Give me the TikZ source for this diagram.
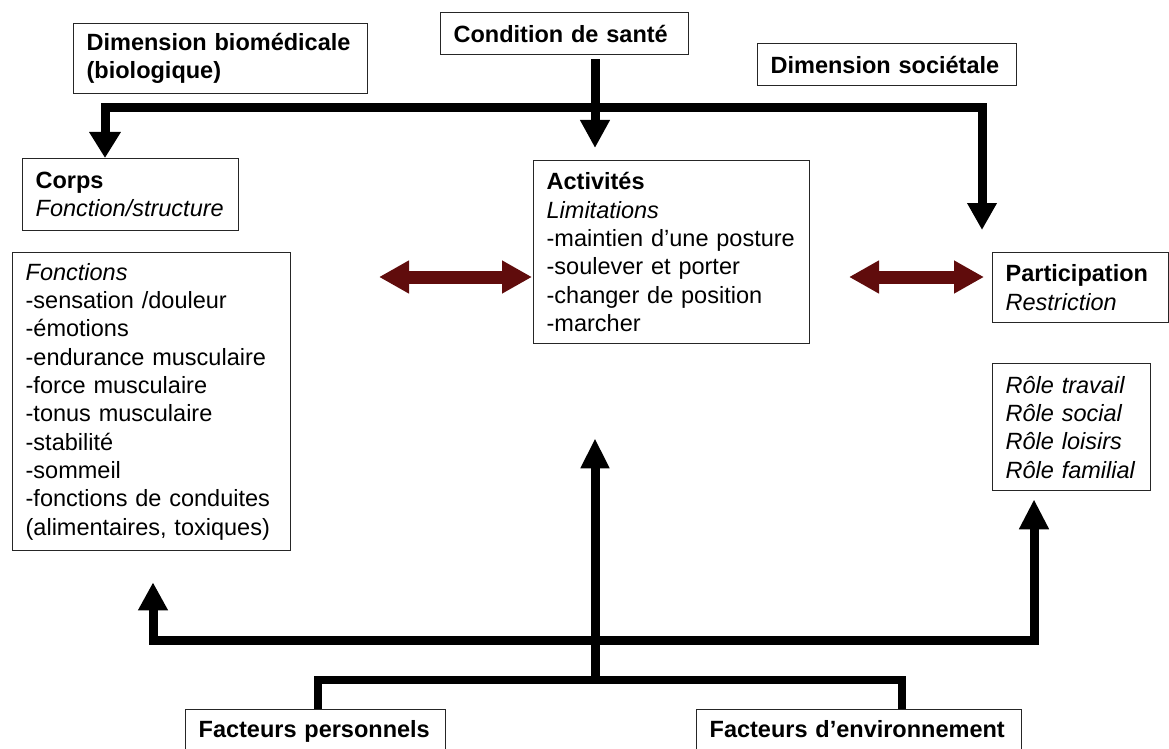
\documentclass[tikz,border=0pt]{standalone}
\usepackage{fontspec}
\setmainfont{Liberation Sans}
\usetikzlibrary{arrows.meta}
\definecolor{darkred}{RGB}{96,12,12}
\newcommand\diagfont{\fontsize{23.5}{28.3}\selectfont}
\begin{document}
\begin{tikzpicture}[x=1pt,y=-1pt,
  box/.style={draw=black!85, line width=1.3pt, anchor=north west, align=left,
              inner xsep=13pt, inner ysep=0pt, font=\diagfont, text=black},
  bus/.style={line width=9pt, draw=black, line join=miter},
  dbl/.style={line width=13pt, draw=darkred,
              {Triangle[width=31pt,length=30pt]}-{Triangle[width=31pt,length=30pt]}}
]
\useasboundingbox (0,0) rectangle (1169,749);
\clip (0,0) rectangle (1169,749);

% boxes
\node[box, text width=268pt, minimum height=70pt] (dimbio) at (73,23)
  {\textbf{Dimension biomédicale}\\\textbf{(biologique)}};
\node[box, text width=222pt, minimum height=42pt] (cond) at (440,12)
  {\textbf{Condition de santé}};
\node[box, text width=233pt, minimum height=42pt] (soc) at (757,43)
  {\textbf{Dimension sociétale}};
\node[box, text width=190pt, minimum height=72pt] (corps) at (22,158)
  {\textbf{Corps}\\\textit{Fonction/structure}};
\node[box, text width=250pt, minimum height=183pt] (act) at (533,160)
  {\textbf{Activités}\\\textit{Limitations}\\-maintien d'une posture\\-soulever et porter\\-changer de position\\-marcher};
\node[box, text width=252pt, minimum height=298pt] (fonc) at (12,252)
  {\textit{Fonctions}\\-sensation /douleur\\-émotions\\-endurance musculaire\\-force musculaire\\-tonus musculaire\\-stabilité\\-sommeil\\-fonctions de conduites\\(alimentaires, toxiques)};
\node[box, text width=150pt, minimum height=70pt] (part) at (992,252)
  {\textbf{Participation}\\\textit{Restriction}};
\node[box, text width=132pt, minimum height=127pt] (role) at (992,363)
  {\textit{Rôle travail}\\\textit{Rôle social}\\\textit{Rôle loisirs}\\\textit{Rôle familial}};
\node[box, text width=234pt, text height=28pt, text depth=16pt] (fp) at (185,709)
  {\textbf{Facteurs personnels}};
\node[box, text width=299pt, text height=28pt, text depth=16pt] (fe) at (696,709)
  {\textbf{Facteurs d’environnement}};

% top distribution
\coordinate (tl) at (105,108);
\coordinate (tr) at (982,108);
\coordinate (cx) at (595,0);
\draw[bus, {Triangle[width=30pt,length=26pt]}-{Triangle[width=28pt,length=27pt]}, shorten >=22pt]
  (corps.north -| tl) -- (tl) -- (tr) -- (part.north -| tr);
\draw[bus, -{Triangle[width=28pt,length=28pt]}, shorten <=4pt, shorten >=12pt]
  (cond.south -| cx) -- (act.north -| cx);

% double arrows
\coordinate (d1) at (379,277);
\coordinate (d2) at (849,277);
\draw[dbl, shorten >=1pt] (d1) -- (d1 -| act.west);
\draw[dbl, shorten >=8pt] (d2) -- (d2 -| part.west);

% bottom distribution
\coordinate (bl) at (153,640);
\coordinate (br) at (1034,640);
\draw[bus, {Triangle[width=28pt,length=28pt]}-{Triangle[width=28pt,length=30pt]}, shorten <=31pt, shorten >=8pt]
  (fonc.south -| bl) -- (bl) -- (br) -- (role.south -| br);
\coordinate (lm) at (595,680);
\draw[bus, -{Triangle[width=27pt,length=30pt]}, shorten >=94pt]
  (lm) -- (act.south -| lm);
\coordinate (ll) at (318,680);
\coordinate (lr) at (902,680);
\draw[bus, line width=8pt] (fp.north -| ll) -- (ll) -- (lr) -- (fe.north -| lr);
\end{tikzpicture}
\end{document}
